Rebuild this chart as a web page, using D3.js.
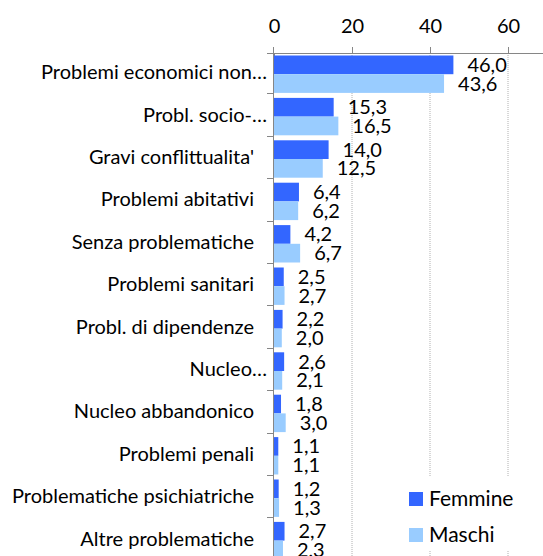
<!DOCTYPE html>
<html>
<head>
<meta charset="utf-8">
<script src="https://cdn.jsdelivr.net/npm/d3@7"></script>
<style>
  body { margin: 0; background: #fff; }
  svg text { font-family: Lato, "Open Sans", sans-serif; fill: #000; }
</style>
</head>
<body>
<div id="chart"></div>
<script>
const categories = [
  'Problemi economici non…',
  'Probl. socio-…',
  "Gravi conflittualita'",
  'Problemi abitativi',
  'Senza problematiche',
  'Problemi sanitari',
  'Probl. di dipendenze',
  'Nucleo…',
  'Nucleo abbandonico',
  'Problemi penali',
  'Problematiche psichiatriche',
  'Altre problematiche'
];
const femmine = [46.0, 15.3, 14.0, 6.4, 4.2, 2.5, 2.2, 2.6, 1.8, 1.1, 1.2, 2.7];
const maschi = [43.6, 16.5, 12.5, 6.2, 6.7, 2.7, 2.0, 2.1, 3.0, 1.1, 1.3, 2.3];
const seriesNames = ['Femmine', 'Maschi'];
const seriesColors = ['#3366FF', '#99CCFF'];
const xTicks = [0, 20, 40, 60];

const W = 543, H = 556;
const FONT = 20;

const svg = d3.select('#chart')
  .append('svg')
  .attr('width', W)
  .attr('height', H);

const x = d3.scaleLinear()
  .domain([0, 70])
  .range([274, 547]);

const y = d3.scaleBand()
  .domain(categories)
  .range([51, 51 + 12 * 42.4])
  .padding(0);

const sub = d3.scaleBand()
  .domain(seriesNames)
  .range([4.5, y.bandwidth() - 0.5]);

const rows = categories.map((c, i) => ({cat: c, values: [femmine[i], maschi[i]]}));

// gridlines
svg.append('g')
  .selectAll('line')
  .data(xTicks.slice(1))
  .join('line')
  .attr('x1', d => x(d)).attr('x2', d => x(d))
  .attr('y1', 53).attr('y2', H)
  .attr('stroke', '#b0b0b0')
  .attr('stroke-dasharray', '1,1');

// top axis
const xAxis = d3.axisTop(x)
  .tickValues(xTicks)
  .tickSize(6)
  .tickPadding(14)
  .tickFormat(d3.format('d'));

const gx = svg.append('g')
  .attr('transform', 'translate(0,53)')
  .call(xAxis);
gx.select('.domain').attr('d', 'M267,0.5H543').attr('stroke', '#868686');
gx.selectAll('.tick line').attr('stroke', '#868686');
gx.selectAll('.tick text')
  .style('font-size', FONT + 'px')
  .attr('fill', '#000');
gx.selectAll('.tick').filter(d => d === 0).select('line').attr('y2', 4);

// bars
const groups = svg.append('g')
  .selectAll('g')
  .data(rows)
  .join('g')
  .attr('transform', d => `translate(0,${y(d.cat)})`);

groups.selectAll('rect')
  .data(d => d.values.map((v, k) => ({v, k})))
  .join('rect')
  .attr('x', x(0))
  .attr('y', d => sub(seriesNames[d.k]))
  .attr('width', d => x(d.v) - x(0))
  .attr('height', sub.bandwidth())
  .attr('fill', d => seriesColors[d.k]);

const fmt = v => d3.format('.1f')(v).replace('.', ',');

groups.selectAll('text.val')
  .data(d => d.values.map((v, k) => ({v, k})))
  .join('text')
  .attr('class', 'val')
  .attr('x', d => x(d.v) + 14)
  .attr('y', d => sub(seriesNames[d.k]) + sub.bandwidth() / 2 + 7)
  .style('font-size', FONT + 'px')
  .text(d => fmt(d.v));

// left axis
svg.append('line')
  .attr('x1', 273.5).attr('x2', 273.5)
  .attr('y1', 47).attr('y2', H)
  .attr('stroke', '#868686');

svg.append('g')
  .selectAll('line')
  .data(categories.slice(1))
  .join('line')
  .attr('x1', 267).attr('x2', 273)
  .attr('y1', d => Math.round(y(d)) + 0.5)
  .attr('y2', d => Math.round(y(d)) + 0.5)
  .attr('stroke', '#868686');

svg.append('g')
  .selectAll('text')
  .data(categories)
  .join('text')
  .attr('x', d => d.endsWith('…') ? 267 : 254)
  .attr('y', d => y(d) + y.bandwidth() / 2 + 7)
  .attr('text-anchor', 'end')
  .style('font-size', FONT + 'px')
  .text(d => d);

// legend
const legend = svg.append('g');
legend.append('rect')
  .attr('x', 402).attr('y', 476)
  .attr('width', 141).attr('height', 75)
  .attr('fill', '#fff');
const li = legend.selectAll('g')
  .data(seriesNames)
  .join('g')
  .attr('transform', (d, i) => `translate(409,${492 + i * 36})`);
li.append('rect')
  .attr('width', 14).attr('height', 14)
  .attr('fill', (d, i) => seriesColors[i]);
li.append('text')
  .attr('x', 20).attr('y', 14)
  .style('font-size', '21px')
  .text(d => d);
</script>
</body>
</html>
